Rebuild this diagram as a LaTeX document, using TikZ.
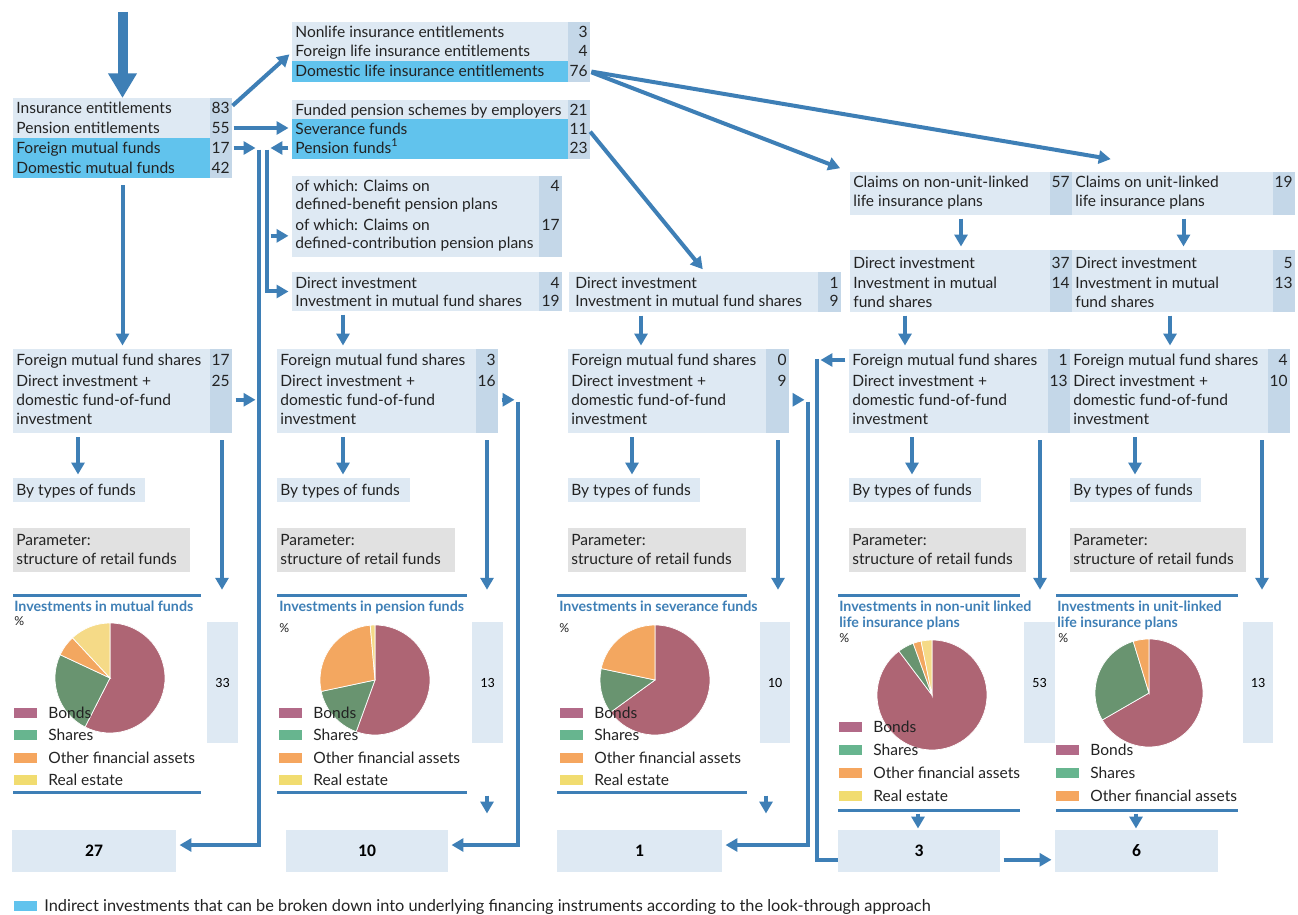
\documentclass[tikz,border=0pt]{standalone}
\usepackage{fontspec}
\setmainfont{Lato}
\newfontfamily\calfont{Carlito}
\usetikzlibrary{arrows.meta,fit}

\definecolor{flow}{RGB}{62,127,182}
\definecolor{boxbg}{RGB}{222,233,243}
\definecolor{numbg}{RGB}{196,215,232}
\definecolor{indirect}{RGB}{97,195,237}
\definecolor{parbg}{RGB}{225,225,225}
\definecolor{ink}{RGB}{35,35,35}
\definecolor{bondpie}{RGB}{174,101,116}
\definecolor{sharepie}{RGB}{105,148,112}
\definecolor{otherpie}{RGB}{243,167,96}
\definecolor{realpie}{RGB}{245,218,135}
\definecolor{bondkey}{RGB}{178,106,136}
\definecolor{sharekey}{RGB}{103,181,143}
\definecolor{otherkey}{RGB}{245,166,95}
\definecolor{realkey}{RGB}{241,220,112}

\begin{document}
\begin{tikzpicture}[x=0.02cm,y=-0.02cm,
  bx/.style={inner sep=0pt,outer sep=0pt,fill=boxbg},
  pbx/.style={inner sep=0pt,outer sep=0pt,fill=parbg},
  pan/.style={inner sep=0pt,outer sep=0pt},
  txt/.style={anchor=west,inner sep=0pt,text=ink,text height=7pt,text depth=1pt,font=\fontsize{8.85}{11}\selectfont},
  num/.style={txt,anchor=east},
  pct/.style={anchor=west,inner sep=0pt,text=ink,font=\fontsize{7}{8}\selectfont},
  ttl/.style={anchor=west,inner sep=0pt,text=flow,text height=6pt,text depth=1.4pt,font=\bfseries\fontsize{8.1}{9}\selectfont},
  side/.style={font=\calfont\fontsize{8}{9}\selectfont,text=black},
  tot/.style={font=\calfont\bfseries\fontsize{10}{12}\selectfont,text=black},
  arr/.style={draw=flow,line width=0.08cm,shorten <=2pt,shorten >=2pt,-{Triangle[length=6.8pt,width=7.4pt]}},
  pipe/.style={draw=flow,line width=0.08cm},
  bigarr/.style={draw=flow,line width=0.2cm,-{Triangle[length=14pt,width=15.5pt]}},
  rule/.style={draw=flow,line width=0.06cm},
  wedge/.style={draw=white,line width=0.4pt}]
\fill[white] (0,0) rectangle (1298,915);
\useasboundingbox (0,0) rectangle (1298,915);

% ---- households' claims
\coordinate (entry) at (122.5,12);
\node[bx,fit={(13,98) (232,178)}] (ins) {};
\fill[indirect] (13,138) rectangle (210,178);
\fill[numbg] (210,98) rectangle (232,178);
\node[txt] at (16,108) {Insurance entitlements};   \node[num] (n83) at (230,108) {83};
\node[txt] at (16,128) {Pension entitlements};     \node[num] (n55) at (230,128) {55};
\node[txt] at (16,148) {Foreign mutual funds};     \node[num] (n17) at (230,148) {17};
\node[txt] at (16,168) {Domestic mutual funds};    \node[num] (n42) at (230,168) {42};

% ---- insurance entitlements
\node[bx,fit={(292,22) (590,82)}] (life) {};
\fill[indirect] (292,61) rectangle (568,82);
\fill[numbg] (568,22) rectangle (590,82);
\node[txt] at (295,32) {Nonlife insurance entitlements};       \node[num] at (588,32) {3};
\node[txt] at (295,51) {Foreign life insurance entitlements};   \node[num] at (588,51) {4};
\node[txt] at (295,71) {Domestic life insurance entitlements};  \node[num] (n76) at (588,71) {76};

% ---- pension entitlements
\node[bx,fit={(292,100) (590,159)}] (pens) {};
\fill[indirect] (292,119) rectangle (568,159);
\fill[numbg] (568,100) rectangle (590,159);
\node[txt] at (295,110) {Funded pension schemes by employers}; \node[num] at (588,110) {21};
\node[txt] (sev) at (295,129) {Severance funds};                  \node[num] (n11) at (588,129) {11};
\node[txt] (pf) at (295,148) {Pension funds\textsuperscript{1}};  \node[num] at (588,148) {23};

\node[bx,fit={(292,176) (562,257)}] (plans) {};
\fill[numbg] (539,176) rectangle (562,257);
\node[txt] at (295,186) {of which: Claims on};                \node[num] at (560,186) {4};
\node[txt] at (295,204) {defined-benefit pension plans};
\node[txt] at (295,225) {of which: Claims on};                \node[num] at (560,225) {17};
\node[txt] at (295,243) {defined-contribution pension plans};

\node[bx,fit={(292,272) (562,311)}] (pdi) {};
\fill[numbg] (539,272) rectangle (562,311);
\node[txt] at (295,283) {Direct investment};                 \node[num] at (560,283) {4};
\node[txt] at (295,301) {Investment in mutual fund shares};  \node[num] at (560,301) {19};

\node[bx,fit={(569,272) (841,312)}] (sdi) {};
\fill[numbg] (818,272) rectangle (841,312);
\node[txt] at (575,283) {Direct investment};                 \node[num] at (839,283) {1};
\node[txt] at (575,301) {Investment in mutual fund shares};  \node[num] at (839,301) {9};

% ---- life insurance plans
\node[bx,fit={(850,172) (1072,215)}] (nul) {};
\fill[numbg] (1050,172) rectangle (1072,215);
\node[txt] at (853,182) {Claims on non-unit-linked};  \node[num] at (1070,182) {57};
\node[txt] at (853,201) {life insurance plans};
\node[bx,fit={(1072,172) (1295,215)}] (ul) {};
\fill[numbg] (1273,172) rectangle (1295,215);
\node[txt] at (1075,182) {Claims on unit-linked};     \node[num] at (1293,182) {19};
\node[txt] at (1075,201) {life insurance plans};

\node[bx,fit={(850,250) (1072,312)}] (nuldi) {};
\fill[numbg] (1050,250) rectangle (1072,312);
\node[txt] at (853,263) {Direct investment};     \node[num] at (1070,263) {37};
\node[txt] at (853,283) {Investment in mutual};  \node[num] at (1070,283) {14};
\node[txt] at (853,302) {fund shares};
\node[bx,fit={(1072,250) (1295,312)}] (uldi) {};
\fill[numbg] (1273,250) rectangle (1295,312);
\node[txt] at (1075,263) {Direct investment};     \node[num] at (1293,263) {5};
\node[txt] at (1075,283) {Investment in mutual};  \node[num] at (1293,283) {13};
\node[txt] at (1075,302) {fund shares};

% ---- fund shares by holder
\node[bx,fit={(13,349) (232,433)}] (f1) {};
\fill[numbg] (210,349) rectangle (232,433);
\node[txt] at (16,360) {Foreign mutual fund shares};  \node[num] at (230,360) {17};
\node[txt] at (16,381) {Direct investment +};         \node[num] at (230,381) {25};
\node[txt] at (16,400) {domestic fund-of-fund};
\node[txt] at (16,419) {investment};

\node[bx,fit={(277,349) (498,433)}] (f2) {};
\fill[numbg] (476,349) rectangle (498,433);
\node[txt] at (280,360) {Foreign mutual fund shares};  \node[num] at (496,360) {3};
\node[txt] at (280,381) {Direct investment +};         \node[num] at (496,381) {16};
\node[txt] at (280,400) {domestic fund-of-fund};
\node[txt] at (280,419) {investment};

\node[bx,fit={(568,349) (789,433)}] (f3) {};
\fill[numbg] (766,349) rectangle (789,433);
\node[txt] at (571,360) {Foreign mutual fund shares};  \node[num] at (787,360) {0};
\node[txt] at (571,381) {Direct investment +};         \node[num] at (787,381) {9};
\node[txt] at (571,400) {domestic fund-of-fund};
\node[txt] at (571,419) {investment};

\node[bx,fit={(849,349) (1070,433)}] (f4) {};
\fill[numbg] (1048,349) rectangle (1070,433);
\node[txt] (f4a) at (852,360) {Foreign mutual fund shares};  \node[num] at (1068,360) {1};
\node[txt] at (852,381) {Direct investment +};               \node[num] at (1068,381) {13};
\node[txt] at (852,400) {domestic fund-of-fund};
\node[txt] at (852,419) {investment};

\node[bx,fit={(1070,349) (1290,433)}] (f5) {};
\fill[numbg] (1268,349) rectangle (1290,433);
\node[txt] at (1073,360) {Foreign mutual fund shares};  \node[num] at (1288,360) {4};
\node[txt] at (1073,381) {Direct investment +};         \node[num] at (1288,381) {10};
\node[txt] at (1073,400) {domestic fund-of-fund};
\node[txt] at (1073,419) {investment};

% ---- by types of funds / parameter
\node[bx,fit={(13,478) (145,502)}] (t1) {};    \node[txt] at (16,490) {By types of funds};
\node[bx,fit={(277,478) (410,502)}] (t2) {};   \node[txt] at (280,490) {By types of funds};
\node[bx,fit={(568,478) (700,502)}] (t3) {};   \node[txt] at (571,490) {By types of funds};
\node[bx,fit={(849,478) (981,502)}] (t4) {};   \node[txt] at (852,490) {By types of funds};
\node[bx,fit={(1070,478) (1201,502)}] (t5) {}; \node[txt] at (1073,490) {By types of funds};

\node[pbx,fit={(13,528) (190,572)}] (r1) {};
\node[txt] at (16,540) {Parameter:};    \node[txt] at (16,559) {structure of retail funds};
\node[pbx,fit={(277,528) (455,572)}] (r2) {};
\node[txt] at (280,540) {Parameter:};   \node[txt] at (280,559) {structure of retail funds};
\node[pbx,fit={(568,528) (746,572)}] (r3) {};
\node[txt] at (571,540) {Parameter:};   \node[txt] at (571,559) {structure of retail funds};
\node[pbx,fit={(849,528) (1026,572)}] (r4) {};
\node[txt] at (852,540) {Parameter:};   \node[txt] at (852,559) {structure of retail funds};
\node[pbx,fit={(1070,528) (1246,572)}] (r5) {};
\node[txt] at (1073,540) {Parameter:};  \node[txt] at (1073,559) {structure of retail funds};

% ---- pie panels
% mutual funds
\node[pan,fit={(13,595) (201,792)}] (pan1) {};
\draw[rule] (pan1.north west) -- (pan1.north east);
\node[ttl] at (14,607) {Investments in mutual funds};
\node[pct] at (14,621) {\%};
\begin{scope}[shift={(110,678)},y=0.02cm]
  \filldraw[wedge,fill=bondpie] (0,0) -- (-117:55) arc (-117:90:55) -- cycle;
  \filldraw[wedge,fill=sharepie] (0,0) -- (155:55) arc (155:243:55) -- cycle;
  \filldraw[wedge,fill=otherpie] (0,0) -- (133:55) arc (133:155:55) -- cycle;
  \filldraw[wedge,fill=realpie] (0,0) -- (90:55) arc (90:133:55) -- cycle;
\end{scope}
\fill[bondkey] (14,708) rectangle (37,718);   \node[txt] at (48,713) {Bonds};
\fill[sharekey] (14,730) rectangle (37,740);  \node[txt] at (48,735) {Shares};
\fill[otherkey] (14,753) rectangle (37,763);  \node[txt] at (48,758) {Other financial assets};
\fill[realkey] (14,775) rectangle (37,785);   \node[txt] at (48,780) {Real estate};
\draw[rule] (pan1.south west) -- (pan1.south east);
\node[bx,fit={(207,622) (238,743)}] (s1) {};  \node[side] at (s1) {33};

% pension funds
\node[pan,fit={(277,595) (467,792)}] (pan2) {};
\draw[rule] (pan2.north west) -- (pan2.north east);
\node[ttl] at (279,607) {Investments in pension funds};
\node[pct] at (279,628) {\%};
\begin{scope}[shift={(375,680)},y=0.02cm]
  \filldraw[wedge,fill=bondpie] (0,0) -- (-110:55) arc (-110:90:55) -- cycle;
  \filldraw[wedge,fill=sharepie] (0,0) -- (192:55) arc (192:250:55) -- cycle;
  \filldraw[wedge,fill=otherpie] (0,0) -- (95:55) arc (95:192:55) -- cycle;
  \filldraw[wedge,fill=realpie] (0,0) -- (90:55) arc (90:95:55) -- cycle;
\end{scope}
\fill[bondkey] (279,708) rectangle (302,718);   \node[txt] at (313,713) {Bonds};
\fill[sharekey] (279,730) rectangle (302,740);  \node[txt] at (313,735) {Shares};
\fill[otherkey] (279,753) rectangle (302,763);  \node[txt] at (313,758) {Other financial assets};
\fill[realkey] (279,775) rectangle (302,785);   \node[txt] at (313,780) {Real estate};
\draw[rule] (pan2.south west) -- (pan2.south east);
\node[bx,fit={(472,622) (503,743)}] (s2) {};  \node[side] at (s2) {13};

% severance funds
\node[pan,fit={(557,595) (747,792)}] (pan3) {};
\draw[rule] (pan3.north west) -- (pan3.north east);
\node[ttl] at (559,607) {Investments in severance funds};
\node[pct] at (559,628) {\%};
\begin{scope}[shift={(655,680)},y=0.02cm]
  \filldraw[wedge,fill=bondpie] (0,0) -- (-144:55) arc (-144:90:55) -- cycle;
  \filldraw[wedge,fill=sharepie] (0,0) -- (168:55) arc (168:216:55) -- cycle;
  \filldraw[wedge,fill=otherpie] (0,0) -- (90:55) arc (90:168:55) -- cycle;
\end{scope}
\fill[bondkey] (560,708) rectangle (583,718);   \node[txt] at (594,713) {Bonds};
\fill[sharekey] (560,730) rectangle (583,740);  \node[txt] at (594,735) {Shares};
\fill[otherkey] (560,753) rectangle (583,763);  \node[txt] at (594,758) {Other financial assets};
\fill[realkey] (560,775) rectangle (583,785);   \node[txt] at (594,780) {Real estate};
\draw[rule] (pan3.south west) -- (pan3.south east);
\node[bx,fit={(760,622) (790,743)}] (s3) {};  \node[side] at (s3) {10};

% non-unit-linked life insurance
\node[pan,fit={(838,595) (1020,810)}] (pan4) {};
\draw[rule] (pan4.north west) -- (pan4.north east);
\node[ttl] at (839,607) {Investments in non-unit linked};
\node[ttl] at (839,623) {life insurance plans};
\node[pct] at (839,638) {\%};
\begin{scope}[shift={(932,695)},y=0.02cm]
  \filldraw[wedge,fill=bondpie] (0,0) -- (-233:55) arc (-233:90:55) -- cycle;
  \filldraw[wedge,fill=sharepie] (0,0) -- (110:55) arc (110:127:55) -- cycle;
  \filldraw[wedge,fill=otherpie] (0,0) -- (101.5:55) arc (101.5:110:55) -- cycle;
  \filldraw[wedge,fill=realpie] (0,0) -- (90:55) arc (90:101.5:55) -- cycle;
\end{scope}
\fill[bondkey] (839,722) rectangle (862,732);   \node[txt] at (873,727) {Bonds};
\fill[sharekey] (839,745) rectangle (862,755);  \node[txt] at (873,750) {Shares};
\fill[otherkey] (839,768) rectangle (862,778);  \node[txt] at (873,773) {Other financial assets};
\fill[realkey] (839,791) rectangle (862,801);   \node[txt] at (873,796) {Real estate};
\draw[rule] (pan4.south west) -- (pan4.south east);
\node[bx,fit={(1024,622) (1055,743)}] (s4) {};  \node[side] at (s4) {53};

% unit-linked life insurance
\node[pan,fit={(1056,595) (1238,810)}] (pan5) {};
\draw[rule] (pan5.north west) -- (pan5.north east);
\node[ttl] at (1057,607) {Investments in unit-linked};
\node[ttl] at (1057,623) {life insurance plans};
\node[pct] at (1058,638) {\%};
\begin{scope}[shift={(1149,693)},y=0.02cm]
  \filldraw[wedge,fill=bondpie] (0,0) -- (-150:54) arc (-150:90:54) -- cycle;
  \filldraw[wedge,fill=sharepie] (0,0) -- (107:54) arc (107:210:54) -- cycle;
  \filldraw[wedge,fill=otherpie] (0,0) -- (90:54) arc (90:107:54) -- cycle;
\end{scope}
\fill[bondkey] (1056,745) rectangle (1079,755);   \node[txt] at (1090,750) {Bonds};
\fill[sharekey] (1056,768) rectangle (1079,778);  \node[txt] at (1090,773) {Shares};
\fill[otherkey] (1056,791) rectangle (1079,801);  \node[txt] at (1090,796) {Other financial assets};
\draw[rule] (pan5.south west) -- (pan5.south east);
\node[bx,fit={(1243,622) (1273,743)}] (s5) {};  \node[side] at (s5) {13};

% ---- totals
\node[bx,fit={(12,830) (176,872)}] (b27) {};    \node[tot] at (b27) {27};
\node[bx,fit={(286,830) (448,872)}] (b10) {};   \node[tot] at (b10) {10};
\node[bx,fit={(557,830) (722,872)}] (b1) {};    \node[tot] at (b1) {1};
\node[bx,fit={(838,830) (1000,872)}] (b3) {};   \node[tot] at (b3) {3};
\node[bx,fit={(1055,830) (1218,872)}] (b6) {};  \node[tot] at (b6) {6};

% key
\fill[indirect] (14,901) rectangle (37,911);
\node[txt,font=\fontsize{9.3}{11}\selectfont] at (44,906) {Indirect investments that can be broken down into underlying financing instruments according to the look-through approach};

% ---- connectors
\draw[bigarr] (entry) -- (ins.north);
\draw[arr] (n83.east) -- (life.west);
\draw[arr] (n55.east) -- (n55.east -| pens.west);
\draw[arr,shorten >=6pt] (n76.east) -- (nul.north west);
\coordinate (ulin) at ([xshift=24pt,yshift=7pt]ul.north west);
\draw[arr] (n76.east) -- (ulin);
\draw[arr] (n11.east) -- (sdi.north);
\draw[arr] (nul.south) -- (nuldi.north);
\draw[arr] (ul.south) -- (uldi.north);

% down into the fund share boxes
\coordinate (k2) at (343,0);
\coordinate (u3) at (641,0);
\coordinate (u4) at (905,0);
\coordinate (u5) at (1170,0);
\draw[arr,shorten <=4pt] (ins.south) -- (f1.north);
\draw[arr] (pdi.south -| k2) -- (f2.north -| k2);
\draw[arr] (sdi.south -| u3) -- (f3.north -| u3);
\draw[arr] (nuldi.south -| u4) -- (f4.north -| u4);
\draw[arr] (uldi.south -| u5) -- (f5.north -| u5);

% by types of funds
\coordinate (k1) at (78,0);
\coordinate (k3) at (632,0);
\coordinate (k4) at (912,0);
\coordinate (k5) at (1135,0);
\draw[arr,shorten <=2.5pt] (f1.south -| k1) -- (t1.north -| k1);
\draw[arr,shorten <=2.5pt] (f2.south -| k2) -- (t2.north -| k2);
\draw[arr,shorten <=2.5pt] (f3.south -| k3) -- (t3.north -| k3);
\draw[arr,shorten <=2.5pt] (f4.south -| k4) -- (t4.north -| k4);
\draw[arr,shorten <=2.5pt] (f5.south -| k5) -- (t5.north -| k5);

% straight down to the panels
\coordinate (m1) at (222,0);
\coordinate (m2) at (487,0);
\coordinate (m3) at (778,0);
\coordinate (m4) at (1040,0);
\coordinate (m5) at (1262,0);
\draw[arr,shorten <=4pt,shorten >=3pt] (f1.south -| m1) -- (pan1.north -| m1);
\draw[arr,shorten <=4pt,shorten >=3pt] (f2.south -| m2) -- (pan2.north -| m2);
\draw[arr,shorten <=4pt,shorten >=3pt] (f3.south -| m3) -- (pan3.north -| m3);
\draw[arr,shorten <=4pt,shorten >=3pt] (f4.south -| m4) -- (pan4.north -| m4);
\draw[arr,shorten <=4pt,shorten >=3pt] (f5.south -| m5) -- (pan5.north -| m5);

% below the panels
\coordinate (q3) at (766,0);
\coordinate (q4) at (918,0);
\coordinate (q5) at (1136,0);
\draw[arr] (pan2.south -| m2) -- ++(0,25);
\draw[arr] (pan3.south -| q3) -- ++(0,25);
\draw[arr] (pan4.south -| q4) -- ++(0,22);
\draw[arr] (pan5.south -| q5) -- ++(0,22);

% mutual funds collector
\coordinate (c1) at (259,146);
\coordinate (o1) at ([yshift=-5pt]f1.east);
\coordinate (in27) at ([yshift=3.4pt]b27.east);
\draw[arr] (n17.east) -- (n17.east -| c1);
\draw[arr] (o1) -- (o1 -| c1);
\draw[arr] (c1) |- (in27);

% pension funds distribution
\coordinate (p1) at (267,146);
\coordinate (in17) at ([yshift=-11pt]plans.west);
\draw[arr] (pens.west |- pf) -- (p1 |- pf);
\draw[arr] (p1) |- (pdi.west);
\draw[arr] (p1 |- in17) -- (in17);

% pension funds collector
\coordinate (c2) at (518,398);
\coordinate (o2) at ([yshift=-5pt]f2.east);
\coordinate (in10) at ([yshift=3.4pt]b10.east);
\draw[arr] (o2) -- (o2 -| c2);
\draw[arr] (c2) |- (in10);

% severance funds collector
\coordinate (c3) at (808,398);
\coordinate (o3) at ([yshift=-5pt]f3.east);
\coordinate (in1) at ([yshift=3.4pt]b1.east);
\draw[arr] (o3) -- (o3 -| c3);
\draw[arr] (c3) |- (in1);

% life insurance collector
\coordinate (c4) at (817,359);
\coordinate (in3) at ([yshift=-5pt]b3.west);
\draw[arr] (f4.west |- f4a) -- (c4 |- f4a);
\draw[pipe] (c4) |- (in3);
\draw[arr] (b3.east |- in3) -- (b6.west |- in3);
\end{tikzpicture}
\end{document}
